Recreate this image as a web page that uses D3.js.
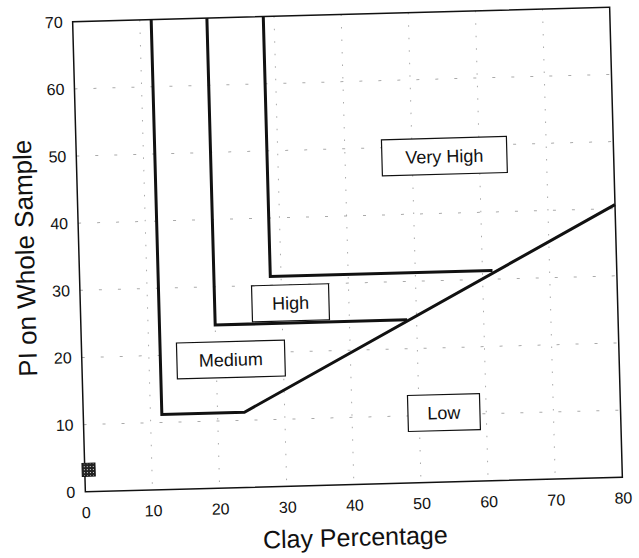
<!DOCTYPE html>
<html>
<head>
<meta charset="utf-8">
<script src="https://cdn.jsdelivr.net/npm/d3@7"></script>
<style>
  html, body { margin: 0; padding: 0; background: #ffffff; }
  svg text { font-family: "Liberation Sans", Arial, Helvetica, sans-serif; fill: #111; }
</style>
</head>
<body>
<svg id="chart" width="639" height="558"></svg>
<script>
// axis ticks
const xTicks = [0, 10, 20, 30, 40, 50, 60, 70, 80];
const yTicks = [0, 10, 20, 30, 40, 50, 60, 70];

// zone boundaries, [clay %, PI]
const mediumBoundary = [[11.7, 70], [11.7, 11.2], [24, 11.2], [80, 40.6]];
const highBoundary = [[20, 70], [20, 24.3], [48.6, 24.3]];
const veryHighBoundary = [[28.4, 70], [28.4, 31.3], [61.5, 31.3]];

// zone labels
const zoneNames = ["Very High", "High", "Medium", "Low"];
const zoneX = [54.8, 31.3, 22.2, 53.7];
const zoneY = [48.5, 27.3, 19.1, 10.35];
const zoneBoxW = [125, 77, 108, 72];

// the small sample marker near the axis
const sampleMarker = [[0.5, 3.2]];

const W = 639, H = 558;
const plot = { left: 78.9, right: 616.1, top: 14.4, bottom: 484.6 };
const tilt = -1.55; // the scanned page is a little rotated

const x = d3.scaleLinear().domain([0, 80]).range([plot.left, plot.right]);
const y = d3.scaleLinear().domain([0, 70]).range([plot.bottom, plot.top]);

const svg = d3.select("#chart");

const defs = svg.append("defs");
const pat = defs.append("pattern")
  .attr("id", "hatch")
  .attr("width", 3).attr("height", 3)
  .attr("patternUnits", "userSpaceOnUse");
pat.append("rect").attr("width", 3).attr("height", 3).attr("fill", "#222");
pat.append("rect").attr("width", 1).attr("height", 1).attr("fill", "#ddd");

const g = svg.append("g")
  .attr("transform", "rotate(" + tilt + "," + (plot.left + plot.right) / 2 + "," + (plot.top + plot.bottom) / 2 + ")");

// faint dotted grid
g.append("g")
  .selectAll("line")
  .data(xTicks.slice(1, -1))
  .join("line")
  .attr("x1", d => x(d)).attr("x2", d => x(d))
  .attr("y1", y(70)).attr("y2", y(0))
  .attr("stroke", "#aaa")
  .attr("stroke-width", 1)
  .attr("stroke-dasharray", "1.5,11");

g.append("g")
  .selectAll("line")
  .data(yTicks.slice(1, -1))
  .join("line")
  .attr("x1", x(0)).attr("x2", x(80))
  .attr("y1", d => y(d)).attr("y2", d => y(d))
  .attr("stroke", "#aaa")
  .attr("stroke-width", 1)
  .attr("stroke-dasharray", "3,16");

// axes (labels only, no tick marks)
const xAxis = g.append("g")
  .attr("transform", "translate(0," + plot.bottom + ")")
  .call(d3.axisBottom(x).tickValues(xTicks).tickSize(0).tickPadding(15));
const yAxis = g.append("g")
  .attr("transform", "translate(" + plot.left + ",0)")
  .call(d3.axisLeft(y).tickValues(yTicks).tickSize(0).tickPadding(10));
[xAxis, yAxis].forEach(function(a) {
  a.select(".domain").remove();
  a.selectAll("text")
    .attr("font-size", 16)
    .attr("font-family", "'Liberation Sans', Arial, sans-serif")
    .attr("fill", "#111");
});

// frame
g.append("rect")
  .attr("x", plot.left).attr("y", plot.top)
  .attr("width", plot.right - plot.left)
  .attr("height", plot.bottom - plot.top)
  .attr("fill", "none")
  .attr("stroke", "#111")
  .attr("stroke-width", 1.5);

// boundaries
const line = d3.line().x(d => x(d[0])).y(d => y(d[1]));
g.append("g")
  .selectAll("path")
  .data([mediumBoundary, highBoundary, veryHighBoundary])
  .join("path")
  .attr("d", line)
  .attr("fill", "none")
  .attr("stroke", "#111")
  .attr("stroke-width", 3)
  .attr("stroke-linejoin", "miter");

// zone labels in boxes
const zones = g.append("g")
  .selectAll("g")
  .data(zoneNames)
  .join("g")
  .attr("transform", (d, i) => "translate(" + x(zoneX[i]) + "," + y(zoneY[i]) + ")");

zones.append("rect")
  .attr("x", (d, i) => -zoneBoxW[i] / 2)
  .attr("y", -18)
  .attr("width", (d, i) => zoneBoxW[i])
  .attr("height", 36)
  .attr("fill", "#fff")
  .attr("stroke", "#111")
  .attr("stroke-width", 1.2);

zones.append("text")
  .attr("text-anchor", "middle")
  .attr("y", 6.5)
  .attr("font-size", 18)
  .text(d => d);

// sample marker
g.append("g")
  .selectAll("rect")
  .data(sampleMarker)
  .join("rect")
  .attr("x", d => x(d[0]) - 6)
  .attr("y", d => y(d[1]) - 7)
  .attr("width", 13)
  .attr("height", 13)
  .attr("fill", "url(#hatch)")
  .attr("stroke", "#111")
  .attr("stroke-width", 1);

// axis titles
g.append("text")
  .attr("x", (plot.left + plot.right) / 2)
  .attr("y", 546)
  .attr("text-anchor", "middle")
  .attr("font-size", 25)
  .text("Clay Percentage");

g.append("text")
  .attr("transform", "translate(34," + (plot.top + plot.bottom) / 2 + ") rotate(-90)")
  .attr("text-anchor", "middle")
  .attr("font-size", 26)
  .text("PI on Whole Sample");
</script>
</body>
</html>
